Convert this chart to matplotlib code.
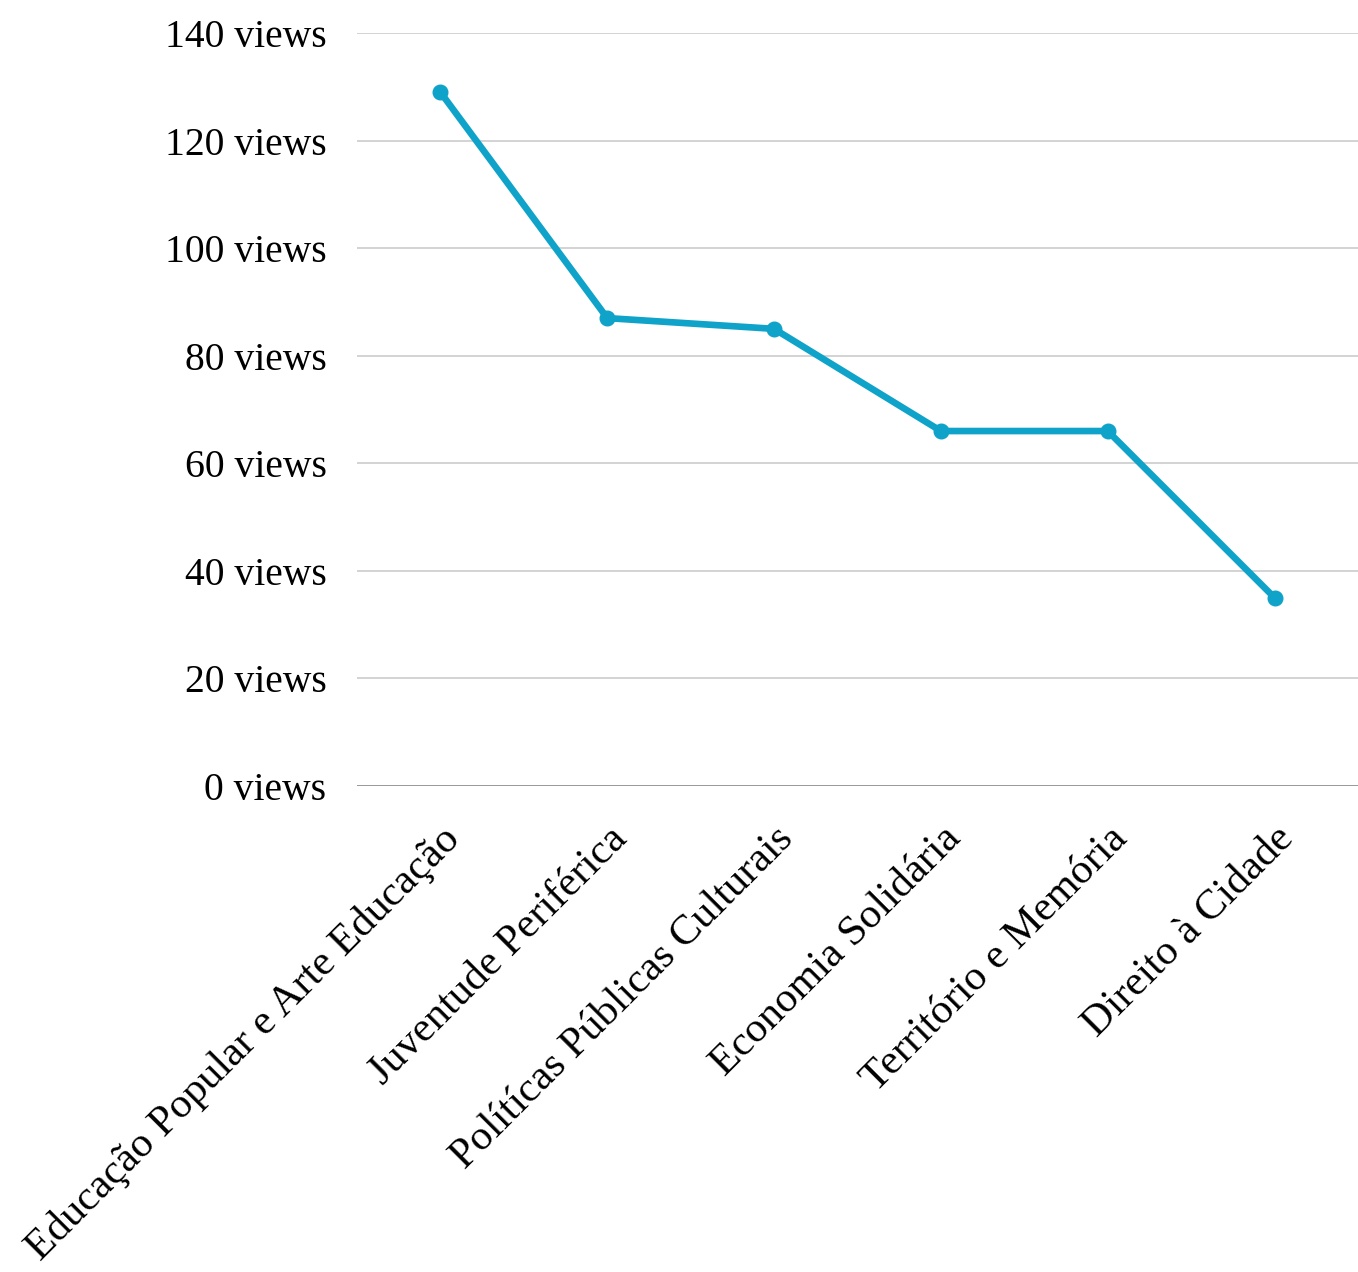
import matplotlib
matplotlib.use("Agg")
import matplotlib.pyplot as plt

categories = ["Educação Popular e Arte Educação", "Juventude Periférica",
              "Polítícas Públicas Culturais", "Economia Solidária",
              "Território e Memória", "Direito à Cidade"]
views = [129, 87, 85, 66, 66, 35]
yticks = [0, 20, 40, 60, 80, 100, 120, 140]

plt.rcParams['font.family'] = ['Liberation Serif', 'DejaVu Serif']

fig = plt.figure(figsize=(13.58, 12.72), dpi=100)
ax = fig.add_axes([0.2629, 0.3821, 0.7371, 0.5919])

xs = list(range(len(categories)))
ax.plot(xs, views, color='#0fa3c9', linewidth=4.8, marker='o', markersize=10.5,
        solid_capstyle='round', zorder=3)

ax.set_xlim(-0.5, len(categories) - 0.5)
ax.set_ylim(0, 140)
ax.set_yticks(yticks)
ax.set_yticklabels([f"{v} views" for v in yticks], fontsize=28.5)
ax.set_xticks(xs)
ax.set_xticklabels(categories, fontsize=30.5, rotation=45, ha='right',
                   rotation_mode='anchor')
ax.tick_params(length=0)
ax.tick_params(axis='y', pad=22)
ax.tick_params(axis='x', pad=24)

for v in yticks:
    ax.axhline(v, color='#888888' if v == 0 else '#cccccc', linewidth=1.2, zorder=1)

for s in ax.spines.values():
    s.set_visible(False)

fig.savefig("out.png", dpi=100)
